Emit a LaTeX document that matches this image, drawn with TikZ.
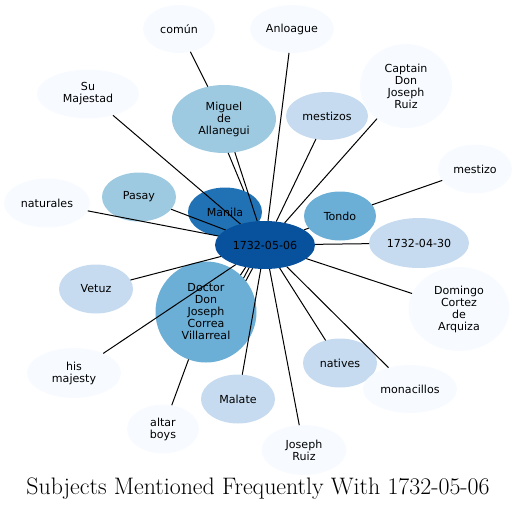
\documentclass[tikz,border=0pt]{standalone}
\usepackage{fontspec}
\usepackage{tikz}
\usetikzlibrary{shapes.geometric}
\newfontfamily\labelfont{DejaVu Sans}
\definecolor{paleColor}{HTML}{F7FBFF}
\definecolor{lightColor}{HTML}{C6DBEF}
\definecolor{softColor}{HTML}{9ECAE1}
\definecolor{midColor}{HTML}{6BAED6}
\definecolor{deepColor}{HTML}{2171B5}
\definecolor{darkColor}{HTML}{08519C}
\pgfdeclarelayer{bubbles}
\pgfdeclarelayer{links}
\pgfsetlayers{bubbles,links,main}

\begin{document}
\begin{tikzpicture}[x=0.75pt, y=-0.75pt,
    bub/.style n args={3}{ellipse, fill=#1, draw=none, inner sep=0pt, outer sep=0pt,
        minimum width=#2*0.75pt, minimum height=#3*0.75pt, align=center,
        font=\labelfont\fontsize{8.3}{9}\selectfont},
    link/.style={black, line width=0.75pt}]
    \useasboundingbox (0,0) rectangle (518,511);
    \node[bub={darkColor}{100}{48}] (c) at (265,245) {1732-05-06};
    \begin{pgfonlayer}{bubbles}
    \node[bub={paleColor}{72}{48}] (comun) at (179,29) {común};
    \node[bub={paleColor}{84}{48}] (anloague) at (292,29) {Anloague};
    \node[bub={paleColor}{102}{49}] (sumaj) at (88,94) {Su\\Majestad};
    \node[bub={softColor}{104}{68}] (miguel) at (224,119) {Miguel\\de\\Allanegui};
    \node[bub={lightColor}{82}{48}] (mestizos) at (327,116) {mestizos};
    \node[bub={paleColor}{92}{84}] (captain) at (406,86) {Captain\\Don\\Joseph\\Ruiz};
    \node[bub={paleColor}{74}{49}] (mestizo) at (475,169) {mestizo};
    \node[bub={paleColor}{86}{49}] (naturales) at (47,203) {naturales};
    \node[bub={softColor}{74}{49}] (pasay) at (139,197) {Pasay};
    \node[bub={deepColor}{74}{49}] (manila) at (225,212) {Manila};
    \node[bub={midColor}{72}{49}] (tondo) at (340,216) {Tondo};
    \node[bub={lightColor}{100}{50}] (otherdate) at (419,243) {1732-04-30};
    \node[bub={paleColor}{101}{84}] (domingo) at (459,309) {Domingo\\Cortez\\de\\Arquiza};
    \node[bub={lightColor}{74}{49}] (vetuz) at (96,289) {Vetuz};
    \node[bub={midColor}{101}{101}] (doctor) at (206,312) {Doctor\\Don\\Joseph\\Correa\\Villarreal};
    \node[bub={paleColor}{94}{50}] (hismaj) at (74,373) {his\\majesty};
    \node[bub={paleColor}{72}{49}] (altar) at (163,429) {altar\\boys};
    \node[bub={lightColor}{74}{49}] (malate) at (238,399) {Malate};
    \node[bub={paleColor}{85}{50}] (joseph) at (304,450) {Joseph\\Ruiz};
    \node[bub={lightColor}{74}{49}] (natives) at (340,363) {natives};
    \node[bub={paleColor}{94}{48}] (monacillos) at (410,389) {monacillos};
    \end{pgfonlayer}

    \begin{pgfonlayer}{links}
    \draw[link] (comun) -- (miguel);
    \draw[link] (altar) -- (doctor);
    \draw[link] (mestizo) -- (tondo);
    \draw[link] (miguel.277) -- (manila.48);
    \draw[link] (doctor.47) -- (c.229);
    \draw[link] (doctor.42) -- (c.235);
    \draw[link] (doctor.38) -- (c.242);
    \foreach \n in {anloague, sumaj, miguel, mestizos, captain, naturales, pasay,
        tondo, otherdate, domingo, vetuz, hismaj, malate, joseph, natives, monacillos}
        \draw[link] (\n) -- (c);
    \end{pgfonlayer}

    \node[font=\fontsize{17.9}{20}\selectfont] (title) at (258,489) {Subjects Mentioned Frequently With 1732-05-06};
\end{tikzpicture}
\end{document}
